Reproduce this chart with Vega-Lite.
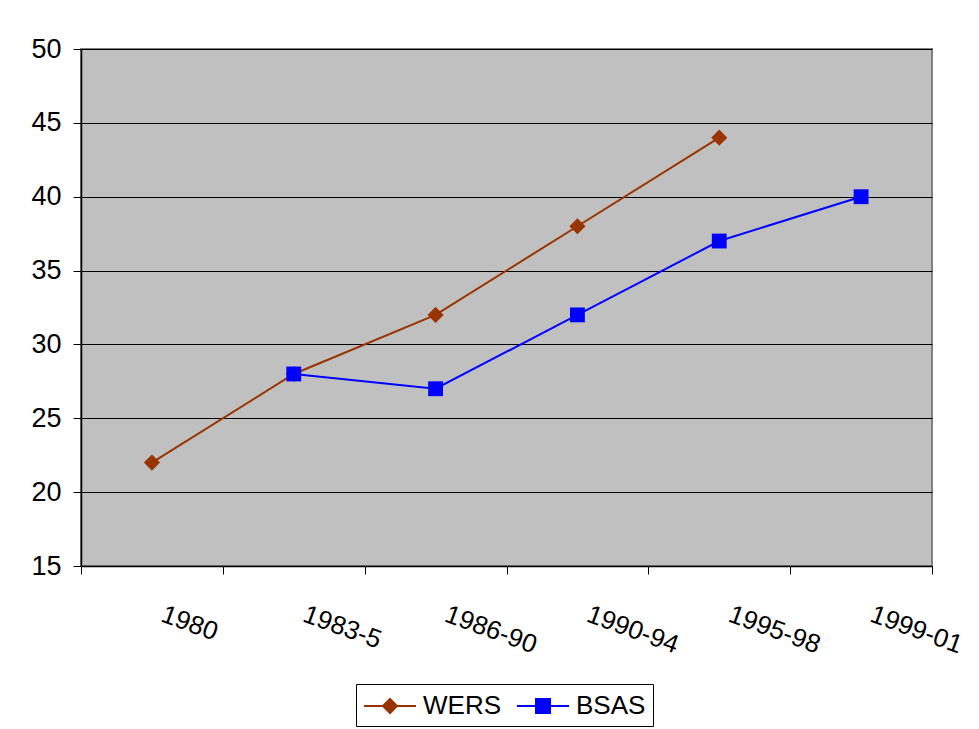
{
  "$schema": "https://vega.github.io/schema/vega-lite/v6.json",
  "autosize": "none",
  "width": 851,
  "height": 517,
  "padding": {"left": 81, "top": 49, "right": 47, "bottom": 163},
  "background": "white",
  "data": {
    "values": [
      {"period": "1980", "series": "WERS", "value": 22},
      {"period": "1983-5", "series": "WERS", "value": 28},
      {"period": "1986-90", "series": "WERS", "value": 32},
      {"period": "1990-94", "series": "WERS", "value": 38},
      {"period": "1995-98", "series": "WERS", "value": 44},
      {"period": "1983-5", "series": "BSAS", "value": 28},
      {"period": "1986-90", "series": "BSAS", "value": 27},
      {"period": "1990-94", "series": "BSAS", "value": 32},
      {"period": "1995-98", "series": "BSAS", "value": 37},
      {"period": "1999-01", "series": "BSAS", "value": 40}
    ]
  },
  "encoding": {
    "x": {
      "field": "period",
      "type": "ordinal",
      "sort": ["1980", "1983-5", "1986-90", "1990-94", "1995-98", "1999-01"],
      "bandPosition": 0.5,
      "scale": {
        "type": "band",
        "paddingInner": 0,
        "paddingOuter": 0,
        "domain": ["1980", "1983-5", "1986-90", "1990-94", "1995-98", "1999-01"]
      },
      "axis": {
        "title": null,
        "tickBand": "extent",
        "labelAngle": 20,
        "labelAlign": "left",
        "labelBaseline": "middle",
        "labelPadding": 39,
        "labelOffset": 10,
        "labelFont": "Liberation Sans",
        "labelFontSize": 26,
        "labelColor": "black",
        "domainColor": "black",
        "domainWidth": 1.5,
        "tickColor": "black",
        "tickSize": 8,
        "grid": false
      }
    },
    "y": {
      "field": "value",
      "type": "quantitative",
      "scale": {"domain": [15, 50], "nice": false, "zero": false},
      "axis": {
        "title": null,
        "values": [15, 20, 25, 30, 35, 40, 45, 50],
        "labelFont": "Liberation Sans",
        "labelFontSize": 27,
        "labelColor": "black",
        "labelPadding": 12,
        "domainColor": "black",
        "domainWidth": 1.5,
        "tickColor": "black",
        "tickSize": 8,
        "grid": true,
        "gridColor": "black",
        "gridWidth": 1,
        "gridOpacity": 1
      }
    },
    "color": {
      "field": "series",
      "type": "nominal",
      "scale": {"domain": ["WERS", "BSAS"], "range": ["#993300", "#0000ff"]},
      "legend": {
        "title": null,
        "orient": "none",
        "legendX": 275,
        "legendY": 635,
        "direction": "horizontal",
        "strokeColor": "black",
        "fillColor": "white",
        "padding": 7,
        "labelFont": "Liberation Sans",
        "labelFontSize": 26,
        "labelColor": "black",
        "labelOffset": 30,
        "symbolSize": 784,
        "symbolStrokeWidth": 2,
        "columnPadding": 12,
        "encode": {
          "symbols": {
            "update": {
              "shape": {"signal": "datum.value === 'WERS' ? 'M-1,0L2.714,0M0.357,0L0.857,-0.5L1.357,0L0.857,0.5Z' : 'M-1,0L2.714,0M0.357,-0.5L1.357,-0.5L1.357,0.5L0.357,0.5Z'"},
              "fill": {"signal": "datum.value === 'WERS' ? '#993300' : '#0000ff'"},
              "stroke": {"signal": "datum.value === 'WERS' ? '#993300' : '#0000ff'"},
              "strokeWidth": {"value": 2},
              "opacity": {"value": 1},
              "fillOpacity": {"value": 1},
              "strokeOpacity": {"value": 1}
            }
          }
        }
      }
    }
  },
  "layer": [
    {
      "mark": {"type": "line", "strokeWidth": 2}
    },
    {
      "transform": [{"filter": "datum.series === 'WERS'"}],
      "mark": {"type": "point", "shape": "diamond", "size": 260, "filled": true, "opacity": 1}
    },
    {
      "transform": [{"filter": "datum.series === 'BSAS'"}],
      "mark": {"type": "point", "shape": "square", "size": 220, "filled": true, "opacity": 1}
    }
  ],
  "config": {
    "view": {"fill": "#c0c0c0", "stroke": "#808080", "strokeWidth": 2}
  }
}
